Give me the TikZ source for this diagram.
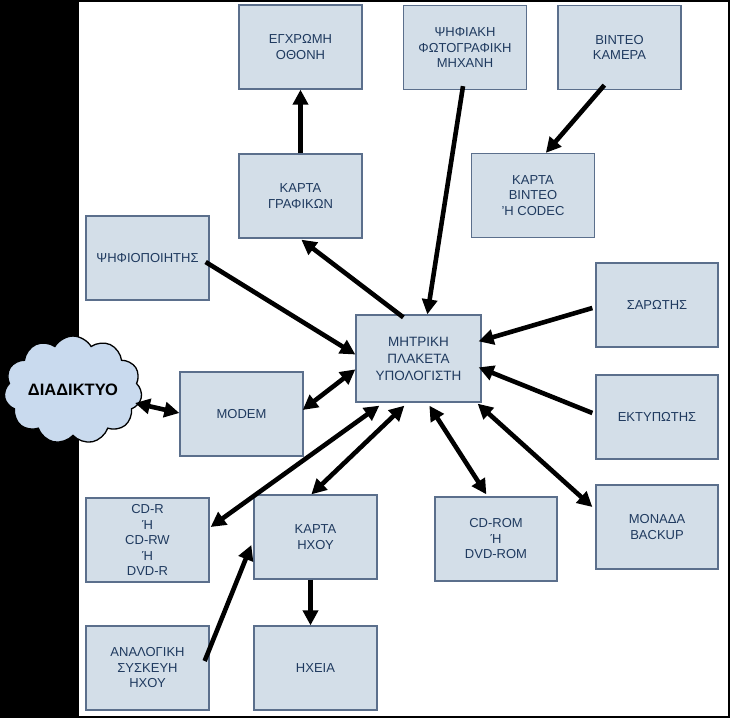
\documentclass[tikz,border=0pt]{standalone}
\usepackage{fontspec}
\setmainfont{Liberation Sans}
\usetikzlibrary{arrows.meta,calc,shapes.symbols}
\definecolor{boxfill}{HTML}{D3DEE8}
\definecolor{boxline}{HTML}{5B6F8C}
\definecolor{txtblue}{HTML}{1F3A5F}
\definecolor{cloudfill}{HTML}{C9DAEE}
\tikzset{
  box/.style={draw=boxline, line width=1.3pt, fill=boxfill, minimum width=123pt, minimum height=84pt,
    inner sep=0pt, align=center, text=txtblue, font=\fontsize{13}{15.5}\selectfont},
  conn/.style={line width=4.6pt, black, -{Triangle[length=15pt,width=15pt]}},
  dconn/.style={line width=4.6pt, black, {Triangle[length=15pt,width=15pt]}-{Triangle[length=15pt,width=15pt]}}
}
\begin{document}
\begin{tikzpicture}[x=1pt,y=-1pt]
\useasboundingbox (0,0) rectangle (730,718);
\fill[black] (0,0) rectangle (730,718);
\fill[white] (79,2) rectangle (728,716);

\node[box] (oth) at (300.5,47) {ΕΓΧΡΩΜΗ\\ΟΘΟΝΗ};
\node[box] (foto) at (465,47.5) {ΨΗΦΙΑΚΗ\\ΦΩΤΟΓΡΑΦΙΚΗ\\ΜΗΧΑΝΗ};
\node[box] (cam) at (619.5,47.5) {ΒΙΝΤΕΟ\\ΚΑΜΕΡΑ};
\node[box] (graph) at (300.5,196) {ΚΑΡΤΑ\\ΓΡΑΦΙΚΩΝ};
\node[box] (vcard) at (533,195.5) {ΚΑΡΤΑ\\ΒΙΝΤΕΟ\\'Η CODEC};
\node[box] (digit) at (147.5,258) {ΨΗΦΙΟΠΟΙΗΤΗΣ};
\node[box, minimum width=122pt] (scan) at (657,305) {ΣΑΡΩΤΗΣ};
\node[box, minimum width=125pt, minimum height=87pt, font=\fontsize{13.5}{17}\selectfont] (mb) at (418.5,358.5) {ΜΗΤΡΙΚΗ\\ΠΛΑΚΕΤΑ\\ΥΠΟΛΟΓΙΣΤΗ};
\node[box] (modem) at (241.5,414) {MODEM};
\node[box, minimum width=122pt] (print) at (657,417) {ΕΚΤΥΠΩΤΗΣ};
\node[box] (cdr) at (147.5,540) {CD-R\\Ή\\CD-RW\\Ή\\DVD-R};
\node[box] (sound) at (315.5,537) {ΚΑΡΤΑ\\ΗΧΟΥ};
\node[box, minimum width=122pt] (cdrom) at (496,539) {CD-ROM\\Ή\\DVD-ROM};
\node[box, minimum width=122pt] (backup) at (657,527) {ΜΟΝΑΔΑ\\BACKUP};
\node[box] (analog) at (147.5,668) {ΑΝΑΛΟΓΙΚΗ\\ΣΥΣΚΕΥΗ\\ΗΧΟΥ};
\node[box] (spk) at (315.5,668) {ΗΧΕΙΑ};

\node[cloud, cloud puffs=11, cloud puff arc=120, aspect=1.4, draw=black, line width=1.3pt, fill=cloudfill,
  minimum width=138pt, minimum height=96pt, inner sep=0pt, font=\fontsize{16.5}{18}\selectfont\bfseries] (net) at (73,390) {ΔΙΑΔΙΚΤΥΟ};

\draw[conn] (graph.north) -- (oth.south);
\draw[conn] ($(foto.south)+(-2,-4)$) -- ($(mb.north west)+(72,0)$);
\draw[conn] ($(cam.south west)+(47,-5)$) -- ($(vcard.north west)+(75,0)$);
\draw[conn] ($(mb.north west)+(48,3)$) -- ($(graph.south west)+(63,1)$);
\draw[conn] ($(digit.east)+(-4,4)$) -- ($(mb.west)+(0,-4)$);
\draw[conn] ($(scan.west)+(-3,3)$) -- ($(mb.north east)+(-3,27)$);
\draw[conn] ($(print.west)+(-3,-4)$) -- ($(mb.north east)+(-3,53)$);
\draw[dconn] ($(modem.east)+(-1,-4)$) -- ($(mb.north west)+(0,55)$);
\draw[dconn] ($(net.center)+(62,13)$) -- ($(modem.west)+(0,-1)$);
\draw[dconn] ($(cdr.east)+(1,-13)$) -- ($(mb.south west)+(24,3)$);
\draw[dconn] ($(sound.north west)+(58,0)$) -- ($(mb.south west)+(49,3)$);
\draw[dconn] ($(mb.south west)+(74,3)$) -- ($(cdrom.north west)+(52,-2)$);
\draw[dconn] ($(mb.south east)+(-4,1)$) -- ($(backup.west)+(-3,-20)$);
\draw[conn] ($(sound.south)+(-5,0)$) -- ($(spk.north)+(-5,0)$);
\draw[conn] ($(analog.east)+(-5,-7)$) -- ($(sound.west)+(-2,8)$);
\end{tikzpicture}
\end{document}
